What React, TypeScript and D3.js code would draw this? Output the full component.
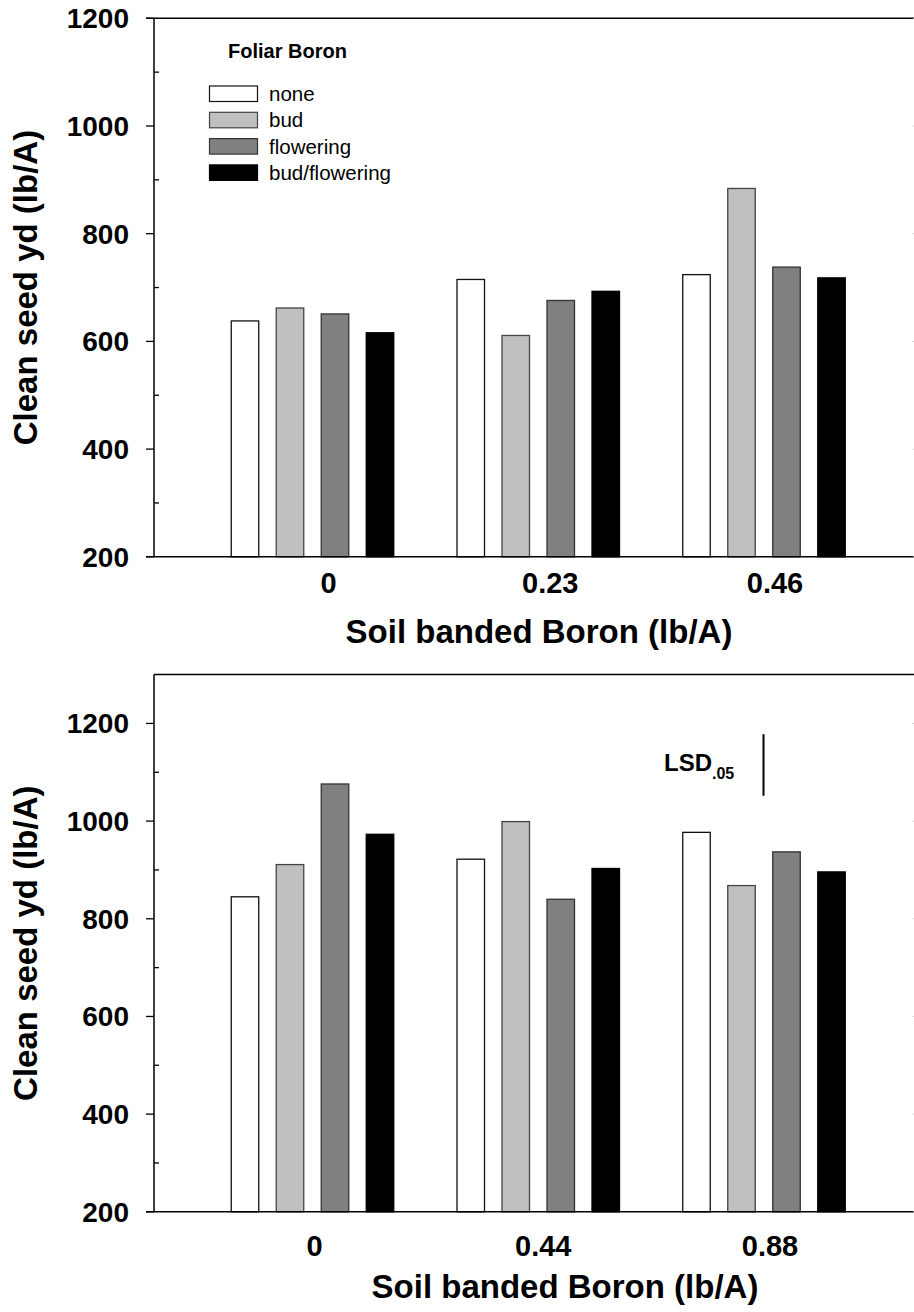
import React from "react";
import * as d3 from "d3";

const seriesNames = ["none", "bud", "flowering", "bud/flowering"];
const seriesFills = ["#ffffff", "#c0c0c0", "#808080", "#000000"];
const seriesStrokes = ["#111111", "#444444", "#333333", "#000000"];

const topCategories = ["0", "0.23", "0.46"];
const topNone = [638, 715, 724];
const topBud = [662, 611, 884];
const topFlowering = [651, 676, 738];
const topBudFlowering = [616, 693, 718];

const bottomCategories = ["0", "0.44", "0.88"];
const bottomNone = [845, 922, 977];
const bottomBud = [911, 999, 868];
const bottomFlowering = [1076, 840, 937];
const bottomBudFlowering = [973, 903, 896];

const majorTicks = [200, 400, 600, 800, 1000, 1200];
const topMinorTicks = [300, 500, 700, 900, 1100];
const bottomMinorTicks = [300, 500, 700, 900, 1100];

const lsdValue = 126;
const lsdCenter = 1115;

const yTitle = "Clean seed yd (lb/A)";
const xTitle = "Soil banded Boron (lb/A)";
const legendTitle = "Foliar Boron";

const FONT = "'Liberation Sans', Arial, Helvetica, sans-serif";

type PanelProps = {
  categories: string[];
  values: number[][];
  yDomain: [number, number];
  yRange: [number, number];
  minorTicks: number[];
  labelOffsets: number[];
  tickLabelY: number;
  xTitleX: number;
  xTitleY: number;
  drawTopTick: boolean;
  children?: React.ReactNode;
};

const AXIS_X = 154;
const RIGHT_X = 920;

function Panel(p: PanelProps) {
  const y = d3.scaleLinear().domain(p.yDomain).range(p.yRange);
  const x = d3.scaleLinear().domain([0, p.categories.length - 1]).range([312.5, 764]);
  const barStep = 45;
  const barW = 27.5;
  const yTop = y(p.yDomain[1]);
  const yBot = y(p.yDomain[0]);
  const yMid = (yTop + yBot) / 2;
  return (
    <g>
      {p.values.map((vals, si) =>
        vals.map((v, ci) => {
          const cx = x(ci) + (si - (p.values.length - 1) / 2) * barStep;
          return (
            <rect
              key={`b${si}-${ci}`}
              x={cx - barW / 2}
              y={y(v)}
              width={barW}
              height={yBot - y(v)}
              fill={seriesFills[si]}
              stroke={seriesStrokes[si]}
              strokeWidth={1.3}
            />
          );
        })
      )}
      <line x1={AXIS_X} x2={AXIS_X} y1={yTop} y2={yBot} stroke="#000" strokeWidth={1.5} />
      <line x1={p.drawTopTick ? AXIS_X - 8 : AXIS_X} x2={RIGHT_X} y1={yTop} y2={yTop} stroke="#000" strokeWidth={1.5} />
      <line x1={AXIS_X - 8} x2={RIGHT_X} y1={yBot} y2={yBot} stroke="#000" strokeWidth={1.5} />
      <line x1={RIGHT_X} x2={RIGHT_X} y1={yTop} y2={yBot} stroke="#000" strokeWidth={1.5} />
      {majorTicks.map((t) => (
        <g key={`mt${t}`}>
          <line x1={AXIS_X - 8} x2={AXIS_X} y1={y(t)} y2={y(t)} stroke="#000" strokeWidth={1.3} />
          <line x1={RIGHT_X - 7} x2={RIGHT_X} y1={y(t)} y2={y(t)} stroke="#bbb" strokeWidth={1} />
          <text
            x={129}
            y={y(t) + 10}
            textAnchor="end"
            fontFamily={FONT}
            fontWeight="bold"
            fontSize={28}
            fill="#000"
          >
            {t}
          </text>
        </g>
      ))}
      {p.minorTicks.map((t) => (
        <line key={`mn${t}`} x1={AXIS_X} x2={AXIS_X + 5} y1={y(t)} y2={y(t)} stroke="#000" strokeWidth={1.3} />
      ))}
      {p.categories.map((c, i) => (
        <text
          key={`xl${c}`}
          x={x(i) + p.labelOffsets[i]}
          y={p.tickLabelY}
          textAnchor="middle"
          fontFamily={FONT}
          fontWeight="bold"
          fontSize={29}
          fill="#000"
        >
          {c}
        </text>
      ))}
      <text
        x={p.xTitleX}
        y={p.xTitleY}
        textAnchor="middle"
        fontFamily={FONT}
        fontWeight="bold"
        fontSize={33}
        fill="#000"
      >
        {xTitle}
      </text>
      <text
        transform={`translate(37,${yMid}) rotate(-90)`}
        textAnchor="middle"
        fontFamily={FONT}
        fontWeight="bold"
        fontSize={33}
        fill="#000"
      >
        {yTitle}
      </text>
      {p.children}
    </g>
  );
}

export default function App() {
  const yBottom = d3.scaleLinear().domain([200, 1300]).range([1211.8, 674.6]);
  const lsdX = 763.5;
  return (
    <svg
      width={914}
      height={1312}
      style={{ position: "absolute", left: 0, top: 0, background: "#fff" }}
    >
      <rect x={0} y={0} width={914} height={1312} fill="#fff" />
      <Panel
        categories={topCategories}
        values={[topNone, topBud, topFlowering, topBudFlowering]}
        yDomain={[200, 1200]}
        yRange={[556.8, 18.3]}
        minorTicks={topMinorTicks}
        labelOffsets={[16, 12, 11]}
        tickLabelY={593}
        xTitleX={539}
        xTitleY={643}
        drawTopTick={true}
      >
        <text x={228} y={57.5} fontFamily={FONT} fontWeight="bold" fontSize={20} fill="#000">
          {legendTitle}
        </text>
        {seriesNames.map((s, i) => (
          <g key={`lg${s}`}>
            <rect
              x={209.5}
              y={86 + i * 26.3}
              width={48}
              height={15.5}
              fill={seriesFills[i]}
              stroke={seriesStrokes[i]}
              strokeWidth={1.2}
            />
            <text x={269} y={100.7 + i * 26.4} fontFamily={FONT} fontSize={20.5} fill="#000">
              {s}
            </text>
          </g>
        ))}
      </Panel>
      <Panel
        categories={bottomCategories}
        values={[bottomNone, bottomBud, bottomFlowering, bottomBudFlowering]}
        yDomain={[200, 1300]}
        yRange={[1211.8, 674.6]}
        minorTicks={bottomMinorTicks}
        labelOffsets={[2, 5, 6]}
        tickLabelY={1256}
        xTitleX={565}
        xTitleY={1298}
        drawTopTick={false}
      >
        <line
          x1={lsdX}
          x2={lsdX}
          y1={yBottom(lsdCenter + lsdValue / 2)}
          y2={yBottom(lsdCenter - lsdValue / 2)}
          stroke="#000"
          strokeWidth={2}
        />
        <text x={664} y={771} fontFamily={FONT} fontWeight="bold" fontSize={24} fill="#000">
          LSD
          <tspan dy={8} fontSize={16}>.05</tspan>
        </text>
      </Panel>
    </svg>
  );
}
